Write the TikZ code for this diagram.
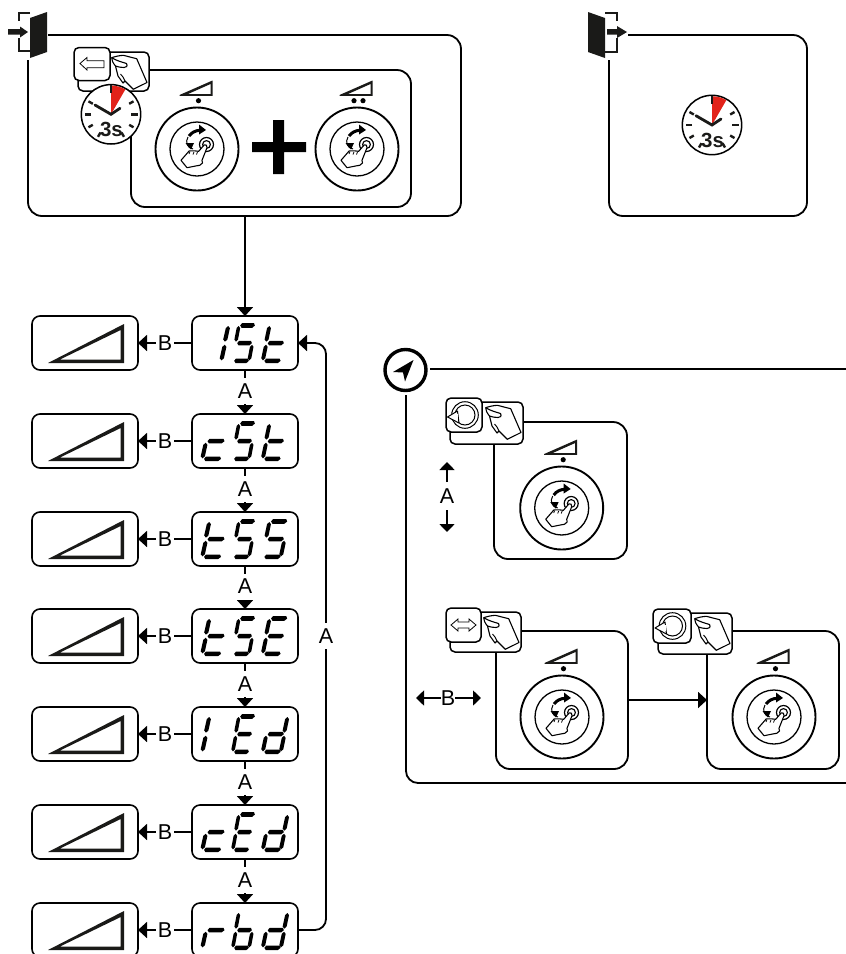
\documentclass[tikz,border=0pt]{standalone}
\usepackage{fontspec}
\setmainfont{Liberation Sans}
\usetikzlibrary{arrows.meta}
\tikzset{
  x=1pt,y=-1pt,
  box/.style={draw=black,line width=1.8pt,rounded corners=14pt,fill=white,inner sep=0pt,outer sep=0pt,anchor=north west},
  disp/.style={draw=black,line width=1.6pt,rounded corners=8pt,fill=white,inner sep=0pt,outer sep=0pt,anchor=north west,minimum width=106pt,minimum height=54pt},
  lab/.style={font=\fontsize{21.5}{22}\selectfont,fill=white,inner sep=0pt},
  labA/.style={lab,minimum height=26pt},
  labB/.style={lab,minimum width=18pt,minimum height=16pt},
  tipS/.style={-{Triangle[length=9pt,width=16pt]}},
  con/.style={line width=1.8pt,tipS},
  plainl/.style={line width=1.8pt},
  ico/.style={line width=1.1pt,line join=round,fill=white},
  thinarrow/.style={line width=1.6pt,-{Triangle[length=8pt,width=15pt]}},
}
\definecolor{ink}{HTML}{1A1A18}
\definecolor{clockred}{HTML}{E2231A}
% seven segment
\newcommand\hseg[3]{\fill[black] ({#1},{#3}) -- ({#1+2},{#3-2.2}) -- ({#2-1},{#3-2.2}) -- ({#2},{#3}) -- ({#2-3},{#3+2.2}) -- ({#1+1.5},{#3+2.2}) -- cycle;}
\newcommand\vseg[4]{\fill[black] ({#1},{#2}) -- ({#1+2.4},{#2-2}) -- ({#3+1.7},{#4+2}) -- ({#3},{#4}) -- ({#3-2.4},{#4+2}) -- ({#1-1.8},{#2-2}) -- cycle;}
\newcommand\sega{\hseg{9}{26}{0}}
\newcommand\segb{\vseg{23}{15.5}{26.2}{0.5}}
\newcommand\segc{\vseg{19.5}{33.5}{22.7}{18.5}}
\newcommand\segd{\hseg{2}{19}{34}}
\newcommand\sege{\vseg{0.5}{33.5}{3.7}{18.5}}
\newcommand\segf{\vseg{4}{15.5}{7.2}{0.5}}
\newcommand\segg{\hseg{5.5}{22.5}{17}}
\newcommand\digit[4]{\begin{scope}[shift={(#1,#2)},xscale=#3,yscale=1.04]\foreach \s in {#4}{\csname seg\s\endcsname}\end{scope}}
\newcommand\display[4]{%
  \digit{202}{#1+9.5}{1}{#2}\digit{232.5}{#1+9.5}{.86}{#3}\digit{262.5}{#1+9.5}{.95}{#4}}
\newcommand\ramp[2]{\begin{scope}[shift={(#1,#2)}]
  \fill[ink,even odd rule] (16,47) -- (92,8) -- (92,47) -- cycle (28,43.5) -- (88.7,14) -- (88.7,43.5) -- cycle;
\end{scope}}
\newcommand\knob[3]{\begin{scope}[shift={(#1,#2)}]
  \draw[line width=1.9pt] (0,0) circle (41.5pt);
  \draw[line width=1.3pt] (0,0) circle (27pt);
  \fill[ink,even odd rule] (-17.5,-54) -- (15.5,-68.5) -- (15.5,-53.2) -- (-17.5,-53.2) -- cycle (-9,-55) -- (13.5,-65) -- (13.5,-55) -- cycle;
  \foreach \d in {#3}{\fill[black] (\d,-48.3) circle (2.6pt);}
  % rotation arrow
  \draw[line width=1pt] (-4,0) .. controls (-10,-1) and (-12,-7) .. (-9,-12);
  \draw[line width=3pt] (-8,-13) .. controls (-5,-17) and (-1,-18.5) .. (3,-18.7);
  \fill[black] (2,-24.5) -- (9,-19) -- (2,-14.5) -- cycle;
  \fill[black] (-11.5,-6) -- (-3,-6) -- (-6,0.5) -- cycle;
  % push disc
  \draw[line width=1.2pt,fill=white] (9.5,-4.5) circle (7pt);
  \draw[line width=1.1pt,fill=white] (9.5,-4.5) circle (3.9pt);
  % hand
  \draw[ico] (-16,11.3) -- (-7.7,1.8) .. controls (-4,1.5) and (-1,2) .. (1.7,2.3) -- (7.3,-4.2) .. controls (8.5,-5.2) and (10.8,-3) .. (10,-1.3) -- (5,11.3) -- (5.5,14) -- (2.7,16.3) .. controls (-2,17) and (-6,18) .. (-10,18.7) -- cycle;
  \draw[line width=.8pt] (-3,3) -- (-4,5.5) (0.5,3) -- (-0.5,5.5) (-7,2.5) -- (-8,5);
\end{scope}}
\newcommand\hand[2]{\begin{scope}[shift={(#1,#2)}]
  \draw[ico] (-37.3,5.7) .. controls (-33,4.2) and (-29,3.5) .. (-25.7,3.3) -- (-12.3,6.7) -- (-2,30.5) -- (-15.7,37.3) -- (-24,29) -- (-26,31) -- (-31,24) -- (-33.5,14) .. controls (-36,11) and (-37.5,8) .. (-37.3,5.7) -- cycle;
  \draw[line width=1.1pt] (-37.3,5.7) .. controls (-32,9) and (-27,10) .. (-22.5,11.5) .. controls (-21,14) and (-23,16) .. (-25,15.5) .. controls (-28,15.5) and (-31,15) .. (-33.5,14);
  \draw[line width=.9pt] (-24,29) -- (-26,25) (-28.5,22) -- (-26,25);
\end{scope}}
\newcommand\rear[4]{\draw[line width=1.5pt,fill=white,rounded corners=5pt] (#1,#2) rectangle (#3,#4); \hand{#3}{#2}}
\newcommand\front[4]{\draw[line width=1.5pt,fill=white,rounded corners=5pt] (#1,#2) rectangle (#3,#4);}
\newcommand\rot[2]{\begin{scope}[shift={(#1,#2)}]
  \draw[line width=1pt] (0,0) circle (13.3pt);
  \draw[line width=1pt] (0,0) circle (10pt);
  \draw[line width=1pt,fill=white,line join=round] (-17.5,2) -- (-7.5,-4) -- (-6,8) -- cycle;
  \fill[white] (-8.2,-1) rectangle (-6.8,4.5);
\end{scope}}
\newcommand\clock[2]{\begin{scope}[shift={(#1,#2)}]
  \draw[line width=1.5pt,fill=white] (0,0) circle (29.7pt);
  \fill[clockred] (0,0) -- (0,-28.7) .. controls (5,-28.7) and (10,-27.5) .. (14.3,-24.8) -- cycle;
  \foreach \a in {30,150,210,240,300,330}{\draw[line width=2.4pt,ink] (\a:21pt) -- (\a:26pt);}
  \draw[line width=2.4pt,ink] (0:20pt) -- (0:26.5pt) (180:20pt) -- (180:26.5pt);
  \draw[line width=2.6pt,ink] (0,-29) -- (0,-21);
  \draw[line width=2.8pt,ink,line cap=round] (-16,-9.3) -- (0,0) -- (9,-6);
  \node[inner sep=0pt,font=\bfseries\fontsize{20.5}{21}\selectfont,text=ink] at (0.5,15.5) {3s};
\end{scope}}
\begin{document}
\begin{tikzpicture}
\clip (0,0) rectangle (846,954);
% top left group
\node[box,minimum width=433pt,minimum height=181pt] (main) at (28,35) {};
\node[box,minimum width=280pt,minimum height=137pt] (inner) at (131,70) {};
\knob{197}{149}{1.5}
\knob{357}{149}{-3,6}
\fill[black] (252,142) rectangle (306,152) (273,120) rectangle (284,174);
\rear{78}{52}{149}{91}
\front{74}{47.5}{110}{80.5}
\draw[line width=.8pt,fill=white] (80,63.5) -- (87,57.5) -- (87,60.7) -- (104,60.7) -- (104,67.7) -- (87,67.7) -- (87,70) -- cycle;
\clock{111}{114.3}
% door in
\fill[white] (14,8) rectangle (48,60);
\fill[ink] (30,18) -- (47,12) -- (47,52) -- (30,58) -- cycle;
\draw[line width=2pt,ink] (30,12.5) -- (19,12.5) -- (19,21) (19,38) -- (19,50.5) -- (30,50.5);
\fill[ink] (8,29) -- (20,29) -- (20,26.5) -- (28,32) -- (20,37.5) -- (20,34.5) -- (8,34.5) -- cycle;
% top right group
\node[box,minimum width=198pt,minimum height=181pt] (exitbox) at (609,35) {};
\clock{712}{125}
\fill[white] (586,8) rectangle (628,60);
\fill[ink] (588,12) -- (605,18) -- (605,58) -- (588,52) -- cycle;
\draw[line width=2pt,ink] (605,12.5) -- (617,12.5) -- (617,21) (617,38) -- (617,51.5) -- (605,51.5);
\fill[ink] (607,29) -- (617,29) -- (617,26) -- (627,32) -- (617,38) -- (617,34.5) -- (607,34.5) -- cycle;
% parameter column
\node[disp] (d1) at (192,316) {};
\node[disp] (d2) at (192,414) {};
\node[disp] (d3) at (192,512) {};
\node[disp] (d4) at (192,609) {};
\node[disp] (d5) at (192,707) {};
\node[disp] (d6) at (192,805) {};
\node[disp] (d7) at (192,903) {};
\node[disp] (v1) at (32,316) {};
\node[disp] (v2) at (32,414) {};
\node[disp] (v3) at (32,512) {};
\node[disp] (v4) at (32,609) {};
\node[disp] (v5) at (32,707) {};
\node[disp] (v6) at (32,805) {};
\node[disp] (v7) at (32,903) {};
\foreach \y in {316,414,512,609,707,805,903}{\ramp{32}{\y}}
\draw[con] (main.south -| d1.north) -- (d1.north);
\foreach \i/\j in {1/2,2/3,3/4,4/5,5/6,6/7}{
  \draw[con] (d\i.south) -- node[labA,pos=.477] (la\i) {A} (d\j.north);
}
\foreach \i in {1,...,7}{
  \draw[con] (d\i.west) -- node[labB,pos=.5] (lb\i) {B} (v\i.east);
}
\draw[con,rounded corners=11pt] (d7.east) -- ++(28,0) |- (d1.east);
\coordinate (loopmid) at (326,636);
\node[labA] (la7) at (loopmid) {A};
% digits
\display{316}{b,c}{a,f,g,c,d}{f,e,g,d}
\display{414}{g,e,d}{a,f,g,c,d}{f,e,g,d}
\display{512}{f,e,g,d}{a,f,g,c,d}{a,f,g,c,d}
\display{609}{f,e,g,d}{a,f,g,c,d}{a,f,g,e,d}
\display{707}{e,f}{a,f,g,e,d}{b,c,g,e,d}
\display{805}{g,e,d}{a,f,g,e,d}{b,c,g,e,d}
\display{903}{e,g}{f,e,g,c,d}{b,c,g,e,d}
% navigation frame
\node[draw=black,line width=3.4pt,circle,minimum size=41pt,inner sep=0pt,outer sep=0pt] (nav) at (405.5,370) {};
\fill[black] (413.5,360) -- (393,372) -- (403,372.5) -- (405,381.5) -- cycle;
\coordinate (navR) at (860,369);
\coordinate (navB) at (860,783);
\draw[plainl] (430,369) -- (navR);
\draw[plainl,rounded corners=12pt] (406,395) -- (406,783) -- (navB);
% panel A
\node[box,minimum width=133pt,minimum height=137pt] (pa) at (494,422) {};
\knob{561.7}{508}{1.5}
\rear{450}{402}{523}{444}
\front{446}{398}{482}{432}
\rot{465}{415}
\coordinate (aup) at (447,462);
\coordinate (adn) at (447,532);
\draw[thinarrow] (447,482) -- (aup);
\draw[thinarrow] (447,510) -- (adn);
\node[lab,fill=none] (lA) at (447,496) {A};
% panel B
\node[box,minimum width=132pt,minimum height=138pt] (pb) at (496,631) {};
\node[box,minimum width=132pt,minimum height=138pt] (pc) at (707,631) {};
\draw[con] (pb.east) -- (pc.west);
\knob{562}{717}{1.5}
\knob{774}{717}{1.5}
\rear{450}{612}{521}{652}
\front{446}{608}{481}{642}
\draw[line width=.8pt,fill=white] (451,625) -- (458,619) -- (458,622) -- (469,622) -- (469,619) -- (476,625) -- (469,631) -- (469,628) -- (458,628) -- (458,631) -- cycle;
\rear{658}{613}{732}{654}
\front{653}{609}{691}{643}
\rot{672.5}{626}
\coordinate (bl) at (416,698);
\coordinate (br) at (481,698);
\draw[thinarrow] (441,698) -- (bl);
\draw[thinarrow] (455,698) -- (br);
\node[lab,fill=none] (lB) at (448,698) {B};
\end{tikzpicture}
\end{document}
